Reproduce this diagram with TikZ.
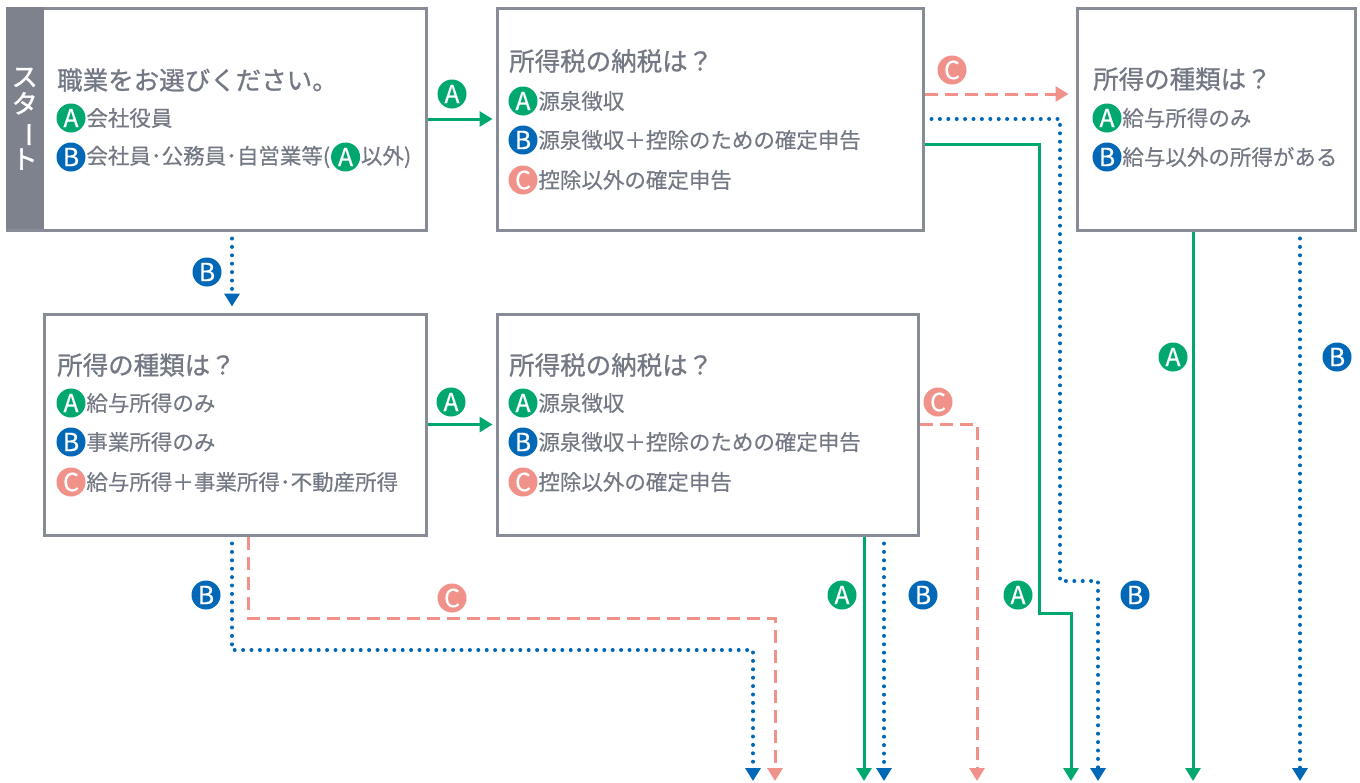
\documentclass[tikz,border=0pt]{standalone}
\usepackage{fontspec}
\setmainfont{Noto Sans CJK JP}
\newfontfamily\jpfont[FakeBold=0.35]{Noto Sans CJK JP}
\newfontfamily\jpboldfont[FakeBold=1.6]{Noto Sans CJK JP}
\newfontfamily\jpmedfont[FakeBold=0.9]{Noto Sans CJK JP}
\newfontfamily\badgefont[FakeBold=0.4]{Noto Sans CJK JP}
\usetikzlibrary{arrows.meta,positioning}
\definecolor{boxgray}{HTML}{888C96}
\definecolor{txtgray}{HTML}{737884}
\definecolor{bandgray}{HTML}{7E828D}
\definecolor{cA}{HTML}{00A870}
\definecolor{cB}{HTML}{0068B7}
\definecolor{cC}{HTML}{F0918A}
\begin{document}
\begin{tikzpicture}[x=1pt,y=-1pt,
  box/.style={draw=boxgray,line width=3pt,fill=white,inner sep=0pt},
  titletext/.style={anchor=west,inner sep=0pt,text=txtgray,font=\jpmedfont\fontsize{25.5}{28}\selectfont},
  itemtext/.style={inner sep=0pt,text=txtgray,font=\jpfont\fontsize{21.5}{24}\selectfont},
  badge/.style={circle,fill=#1,text=white,inner sep=0pt,minimum size=29pt,font=\badgefont\fontsize{25}{25}\selectfont},
  tipstyle/.style={-{Triangle[width=15pt,length=13pt]}},
  solidline/.style={draw=cA,line width=3pt,tipstyle},
  dotline/.style={draw=cB,line width=4pt,line cap=round,dash pattern=on 0pt off 8.4pt,tipstyle},
  dashline/.style={draw=cC,line width=3pt,dash pattern=on 13pt off 7pt,tipstyle}
]
\useasboundingbox (0,0) rectangle (1360,782);

% ---------- boxes ----------
\node[box,minimum width=419pt,minimum height=222pt] (b1) at (216.5,119) {};
\node[fill=bandgray,inner sep=0pt,minimum width=38pt,minimum height=222pt,anchor=north west] (band) at (b1.north west) {};
\node[text=white,inner sep=0pt,align=center,font=\jpboldfont\fontsize{26}{27}\selectfont] (st) at ([yshift=-1pt]band.center) {ス\\タ\\\rotatebox[origin=c]{-90}{ー}\\ト};
\node[box,minimum width=426pt,minimum height=222pt] (b2) at (710,119) {};
\node[box,minimum width=278pt,minimum height=222pt] (b3) at (1216,119) {};
\node[box,minimum width=382pt,minimum height=221pt] (b4) at (235,424.5) {};
\node[box,minimum width=421pt,minimum height=221pt] (b5) at (707.5,424.5) {};

% ---------- box 1 ----------
\node[titletext] (t1) at (57,80) {職業をお選びください。};
\node[badge=cA] (k1a) at (71,118) {A};
\node[itemtext,right=0.5pt of k1a] (i1a) {会社役員};
\node[badge=cB] (k1b) at (71,157) {B};
\node[itemtext,right=0.5pt of k1b] (i1b) {会社員･公務員･自営業等(};
\node[badge=cA,right=0.5pt of i1b] (k1c) {A};
\node[itemtext,right=0.5pt of k1c] (i1c) {以外)};

% ---------- box 2 ----------
\node[titletext] (t2) at (509,61) {所得税の納税は？};
\node[badge=cA] (k2a) at (523,101) {A};
\node[itemtext,right=0.5pt of k2a] (i2a) {源泉徴収};
\node[badge=cB] (k2b) at (523,140) {B};
\node[itemtext,right=0.5pt of k2b] (i2b) {源泉徴収＋控除のための確定申告};
\node[badge=cC] (k2c) at (523,180) {C};
\node[itemtext,right=0.5pt of k2c] (i2c) {控除以外の確定申告};

% ---------- box 3 ----------
\node[titletext] (t3) at (1093,79) {所得の種類は？};
\node[badge=cA] (k3a) at (1107,118) {A};
\node[itemtext,right=0.5pt of k3a] (i3a) {給与所得のみ};
\node[badge=cB] (k3b) at (1107,157) {B};
\node[itemtext,right=0.5pt of k3b] (i3b) {給与以外の所得がある};

% ---------- box 4 ----------
\node[titletext] (t4) at (57,365) {所得の種類は？};
\node[badge=cA] (k4a) at (71,403) {A};
\node[itemtext,right=0.5pt of k4a] (i4a) {給与所得のみ};
\node[badge=cB] (k4b) at (71,442) {B};
\node[itemtext,right=0.5pt of k4b] (i4b) {事業所得のみ};
\node[badge=cC] (k4c) at (71,482) {C};
\node[itemtext,right=0.5pt of k4c] (i4c) {給与所得＋事業所得･不動産所得};

% ---------- box 5 ----------
\node[titletext] (t5) at (509,365) {所得税の納税は？};
\node[badge=cA] (k5a) at (523,403) {A};
\node[itemtext,right=0.5pt of k5a] (i5a) {源泉徴収};
\node[badge=cB] (k5b) at (523,442) {B};
\node[itemtext,right=0.5pt of k5b] (i5b) {源泉徴収＋控除のための確定申告};
\node[badge=cC] (k5c) at (523,482) {C};
\node[itemtext,right=0.5pt of k5c] (i5c) {控除以外の確定申告};

% ---------- end points ----------
\coordinate (eB4) at (753,781);
\coordinate (eC4) at (775,781);
\coordinate (eA5) at (864,781);
\coordinate (eB5) at (884,781);
\coordinate (eC5) at (977,781);
\coordinate (eA2) at (1071,781);
\coordinate (eB2) at (1098,781);
\coordinate (eA3) at (1193,781);
\coordinate (eB3) at (1300,781);

% ---------- connectors ----------
\draw[solidline,shorten >=3pt] (b1.east) -- (b2.west);
\draw[dotline] ([xshift=15.5pt,yshift=-7pt]b1.south) -- ([xshift=-3pt,yshift=6pt]b4.north);
\draw[solidline,shorten >=3pt] (b4.east) -- (b5.west);
\draw[dashline,shorten >=7pt] ([yshift=25pt]b2.east) -- ([yshift=25pt]b3.west);
\draw[dotline] ([xshift=7pt]b2.east) -- (1060,119) -- (1060,581) -- (1098,581) -- (eB2);
\draw[solidline] ([yshift=-25pt]b2.east) -- (1039,144) -- (1039,613) -- (1071,613) -- (eA2);
\draw[solidline] ([xshift=-23pt]b3.south) -- (eA3);
\draw[dotline] ([xshift=84pt,yshift=-7pt]b3.south) -- (eB3);
\draw[dashline] (b5.east) -- (977,424.5) -- (eC5);
\draw[solidline] ([xshift=156.5pt]b5.south) -- (eA5);
\draw[dotline] ([xshift=176.5pt,yshift=-7pt]b5.south) -- (eB5);
\draw[dotline] ([xshift=-3pt,yshift=-7pt]b4.south) -- (232,650) -- (753,650) -- (eB4);
\draw[dashline] ([xshift=13pt]b4.south) -- (248,618) -- (775,618) -- (eC4);

% ---------- connector badges ----------
\node[badge=cA] (l1) at (452,94) {A};
\node[badge=cB] (l2) at (207,272) {B};
\node[badge=cA] (l3) at (451,402) {A};
\node[badge=cC] (l4) at (952,70) {C};
\node[badge=cC] (l5) at (938,402) {C};
\node[badge=cA] (l6) at (1173,357) {A};
\node[badge=cB] (l7) at (1337,357) {B};
\node[badge=cA] (l8) at (842,595) {A};
\node[badge=cB] (l9) at (923,595) {B};
\node[badge=cA] (l10) at (1018,595) {A};
\node[badge=cB] (l11) at (1135,595) {B};
\node[badge=cB] (l12) at (206,595) {B};
\node[badge=cC] (l13) at (452,598) {C};
\end{tikzpicture}
\end{document}
